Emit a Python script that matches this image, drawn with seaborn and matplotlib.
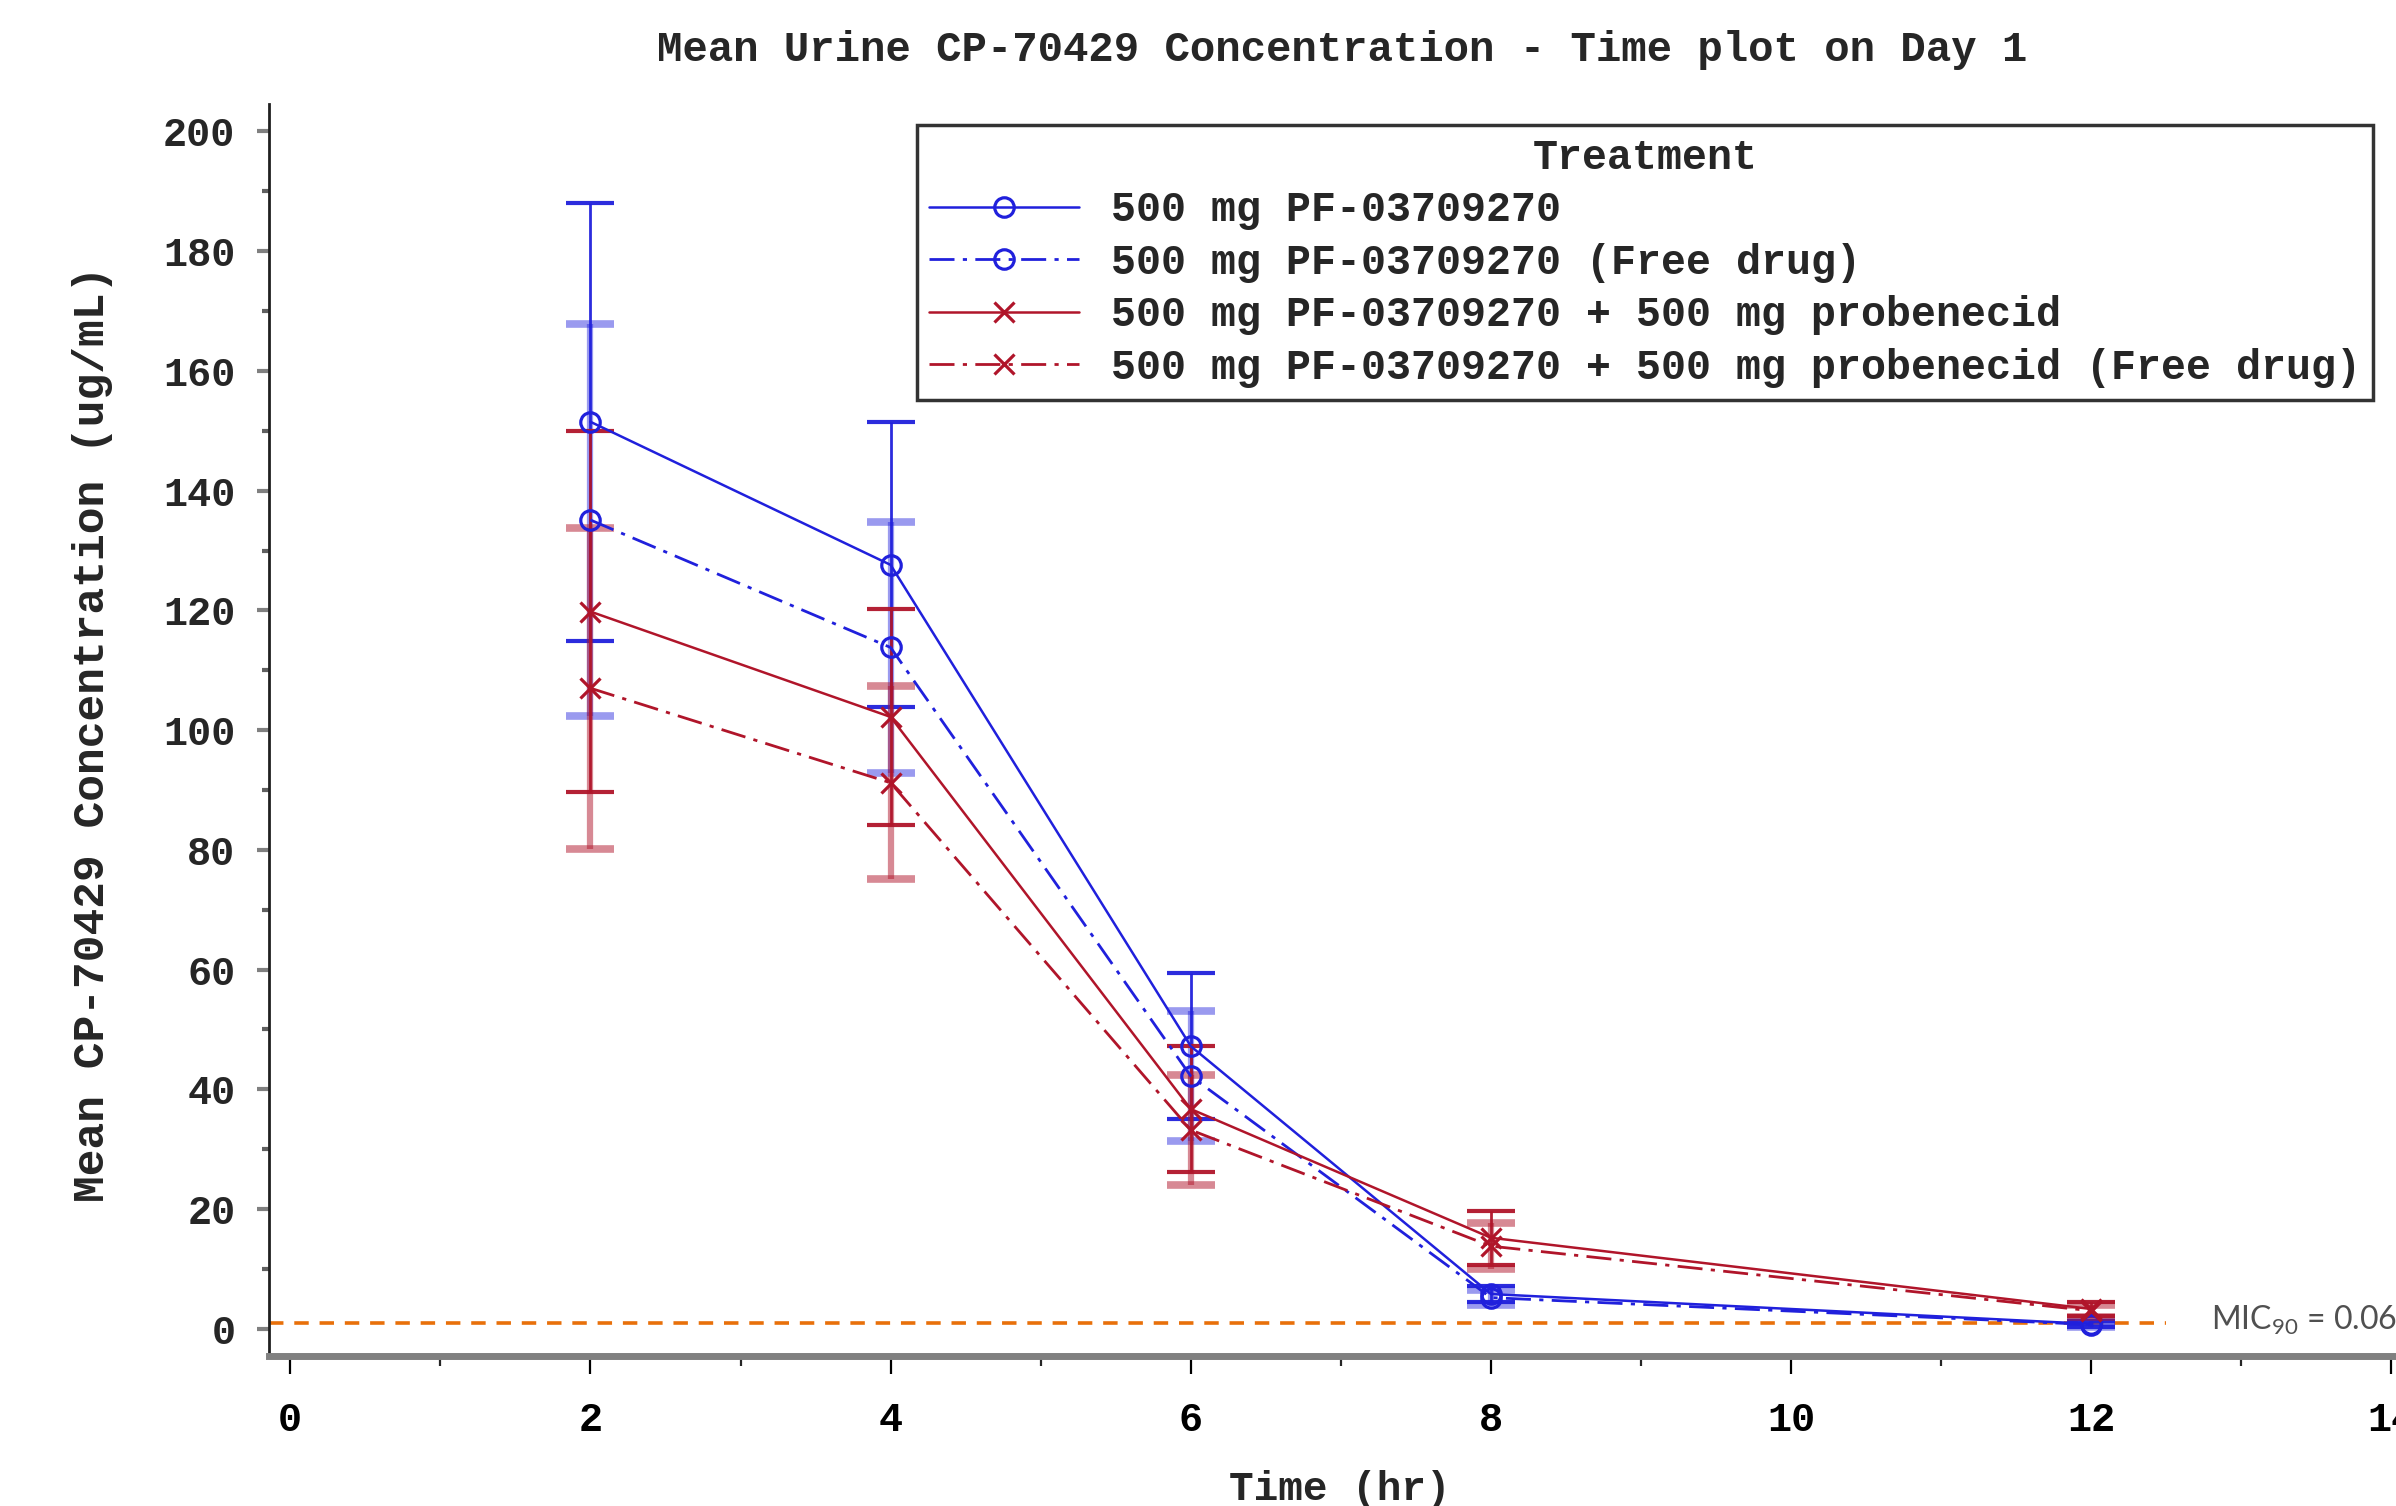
import numpy as np
import pandas as pd
import seaborn as sns
import matplotlib.pyplot as plt
from matplotlib.ticker import MultipleLocator

# values (ug/mL, mean and SD)
time_hr = [2, 4, 6, 8, 12]
series_names = [
    "500 mg PF-03709270",
    "500 mg PF-03709270 (Free drug)",
    "500 mg PF-03709270 + 500 mg probenecid",
    "500 mg PF-03709270 + 500 mg probenecid (Free drug)",
]
mean_pf = [151.5, 127.6, 47.2, 5.8, 0.8]
sd_pf = [36.6, 23.8, 12.2, 1.4, 0.5]
mean_pf_free = [135.1, 113.8, 42.2, 5.2, 0.7]
sd_pf_free = [32.8, 20.9, 10.9, 1.2, 0.4]
mean_prob = [119.8, 102.2, 36.7, 15.2, 3.3]
sd_prob = [30.1, 18.0, 10.5, 4.5, 1.2]
mean_prob_free = [107.0, 91.2, 33.2, 13.8, 3.0]
sd_prob_free = [26.8, 16.1, 9.2, 3.9, 1.0]

mic_level = 1.0
mic_end = 12.5
title = "Mean Urine CP-70429 Concentration - Time plot on Day 1"
xlabel = "Time (hr)"
ylabel = "Mean CP-70429 Concentration (ug/mL)"

sns.set_theme(style="ticks")
mono = ["Liberation Mono", "DejaVu Sans Mono"]
plt.rcParams["font.family"] = mono
plt.rcParams["font.weight"] = "bold"

blue = "#2020dc"
red = "#b0152a"
dashdot = (0, (9, 3, 1.5, 3))

df = pd.DataFrame({
    "time": time_hr * 4,
    "conc": mean_pf + mean_pf_free + mean_prob + mean_prob_free,
    "sd": sd_pf + sd_pf_free + sd_prob + sd_prob_free,
    "treatment": np.repeat(series_names, len(time_hr)),
})

styles = {
    series_names[0]: dict(color=blue, marker="o", ls="-", lw=1.8, eb_lw=2.0, eb_alpha=0.95),
    series_names[1]: dict(color=blue, marker="o", ls=dashdot, lw=2.0, eb_lw=4.5, eb_alpha=0.45),
    series_names[2]: dict(color=red, marker="x", ls="-", lw=1.8, eb_lw=2.0, eb_alpha=0.95),
    series_names[3]: dict(color=red, marker="x", ls=dashdot, lw=2.0, eb_lw=4.5, eb_alpha=0.5),
}

fig = plt.figure(figsize=(23.96, 15.06), dpi=100)
ax = fig.add_axes([0.1122, 0.0994, 0.8878, 0.8316])

for name in series_names:
    st = styles[name]
    sub = df[df["treatment"] == name]
    ax.errorbar(sub["time"], sub["conc"], yerr=sub["sd"], fmt="none",
                ecolor=st["color"], elinewidth=st["eb_lw"], capsize=17,
                capthick=st["eb_lw"] + 1, alpha=st["eb_alpha"], zorder=2)
    sns.lineplot(data=sub, x="time", y="conc", ax=ax, color=st["color"],
                 linestyle=st["ls"], linewidth=st["lw"], marker=st["marker"],
                 markersize=14, markerfacecolor="none",
                 markeredgecolor=st["color"], markeredgewidth=2.3,
                 label=name, zorder=3)

# MIC reference line
ax.plot([-0.14, mic_end], [mic_level, mic_level], color="#e8700a",
        linestyle=(0, (4, 3)), linewidth=2.6, zorder=1)
ax.text(12.8, mic_level + 0.4, r"$\mathregular{MIC_{90}}$ = 0.06",
        fontfamily=["Lato", "DejaVu Sans"], fontweight="normal",
        fontsize=23, color="#505050", va="center", ha="left")

ax.set_xlim(-0.1426, 14.03)
ax.set_ylim(-4.6, 204.6)
ax.xaxis.set_major_locator(MultipleLocator(2))
ax.xaxis.set_minor_locator(MultipleLocator(1))
ax.yaxis.set_major_locator(MultipleLocator(20))
ax.yaxis.set_minor_locator(MultipleLocator(10))
ax.tick_params(axis="x", which="major", length=13, width=1.6, pad=19,
               labelsize=29, colors="#000000")
ax.tick_params(axis="x", which="minor", length=7, width=1.6)
ax.tick_params(axis="y", which="major", length=9, width=3, pad=15,
               labelsize=29, color="#808080")
ax.tick_params(axis="y", which="minor", length=5, width=3, color="#606060")
for lab in ax.get_xticklabels() + ax.get_yticklabels():
    lab.set_fontweight("bold")

sns.despine(ax=ax)
ax.spines["left"].set_linewidth(2.0)
ax.spines["left"].set_color("#202020")
ax.spines["bottom"].set_linewidth(5)
ax.spines["bottom"].set_color("#808080")
ax.set_xlabel("")
ax.set_ylabel("")

fig.text(0.56, 0.9665, title, ha="center", va="center", fontsize=30.5, fontweight="bold")
fig.text(0.0384, 0.513, ylabel, ha="center", va="center", rotation=90,
         fontsize=32, fontweight="bold")
fig.text(0.559, 0.011, xlabel, ha="center", va="center", fontsize=29.5, fontweight="bold")

leg = ax.legend(loc="upper left", bbox_to_anchor=(0.3827, 0.9168),
                bbox_transform=fig.transFigure, title="Treatment",
                fontsize=30, title_fontproperties={"size": 30, "weight": "bold",
                                                   "family": mono},
                frameon=True, fancybox=False, handlelength=3.6,
                handletextpad=0.75, labelspacing=0.3, borderpad=0.3,
                borderaxespad=0)
leg.get_frame().set_edgecolor("#000000")
leg.get_frame().set_linewidth(2.5)
for t in leg.get_texts():
    t.set_fontweight("bold")

fig.savefig("out.png", dpi=100)
